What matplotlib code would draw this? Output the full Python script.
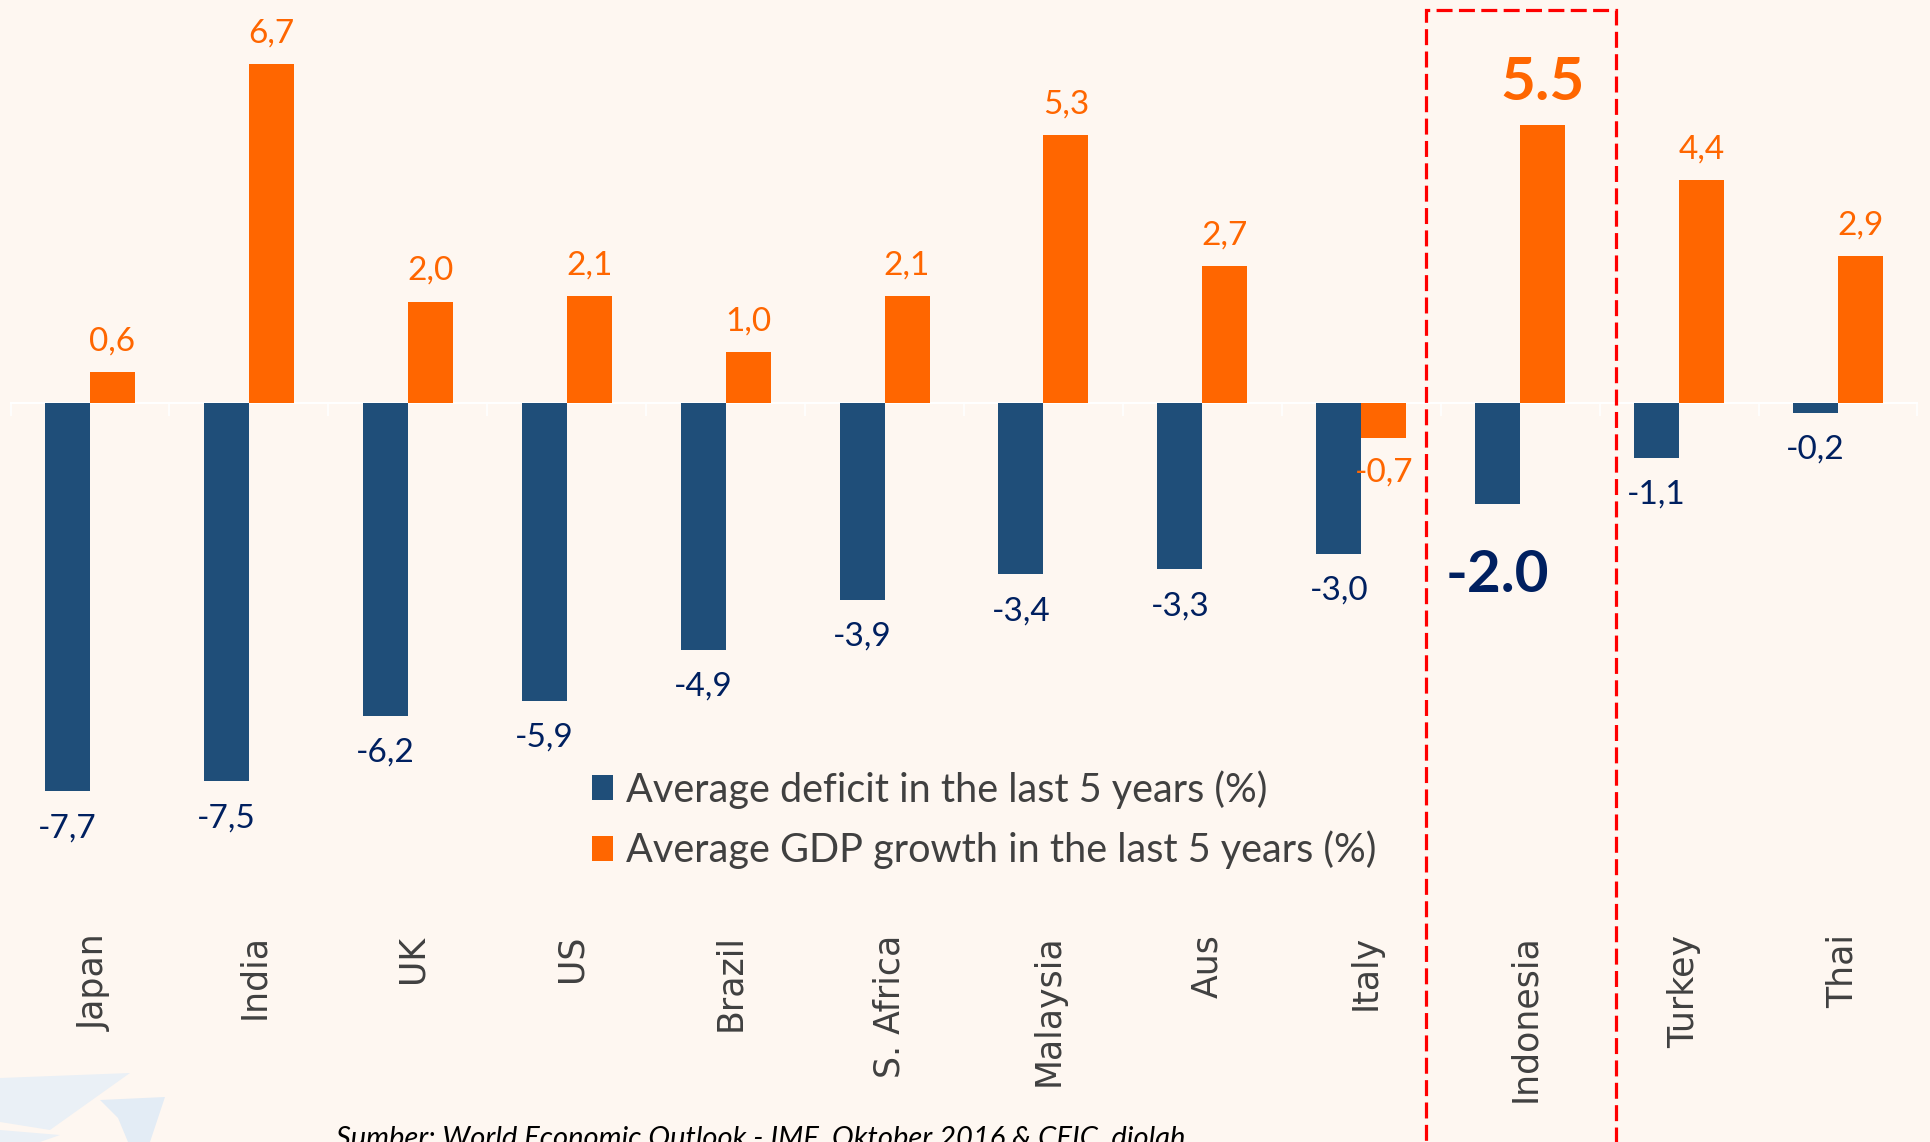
import matplotlib.pyplot as plt
from matplotlib.patches import Rectangle, Polygon

# Data
COUNTRIES = ["Japan", "India", "UK", "US", "Brazil", "S. Africa", "Malaysia",
             "Aus", "Italy", "Indonesia", "Turkey", "Thai"]
DEFICIT = [-7.7, -7.5, -6.2, -5.9, -4.9, -3.9, -3.4, -3.3, -3.0, -2.0, -1.1, -0.2]
GDP_GROWTH = [0.6, 6.7, 2.0, 2.1, 1.0, 2.1, 5.3, 2.7, -0.7, 5.5, 4.4, 2.9]
HIGHLIGHT = "Indonesia"

LEGEND_LABELS = ["Average deficit in the last 5 years (%)",
                 "Average GDP growth in the last 5 years (%)"]
SOURCE = "Sumber: World Economic Outlook - IMF, Oktober 2016 & CEIC, diolah"

BG = "#FEF7F1"
BLUE = "#1F4E79"
ORANGE = "#FF6600"
NAVY = "#002060"
GREY = "#404040"
OUTPUT_PLOT_FILE = "out.png"


def fmt(v):
    return f"{v:.1f}".replace(".", ",")


def main():
    W, H = 1931, 1142
    fig = plt.figure(figsize=(W / 100, H / 100), dpi=100, facecolor=BG)
    ax = fig.add_axes([10.5 / W, 0, 1907 / W, 1])
    ax.set_facecolor(BG)

    x = list(range(len(COUNTRIES)))
    w = 0.283
    bars_d = ax.bar([i - w / 2 for i in x], DEFICIT, width=w, color=BLUE,
                    label=LEGEND_LABELS[0], zorder=3)
    bars_g = ax.bar([i + w / 2 for i in x], GDP_GROWTH, width=w, color=ORANGE,
                    label=LEGEND_LABELS[1], zorder=3)

    ax.set_xlim(-0.5, len(COUNTRIES) - 0.5)
    ax.set_ylim(-14.64, 7.97)

    # zero axis: faint white line with boundary ticks
    for s in ["top", "right", "left"]:
        ax.spines[s].set_visible(False)
    ax.spines["bottom"].set_position(("data", 0))
    ax.spines["bottom"].set_color("white")
    ax.spines["bottom"].set_linewidth(1.5)
    ax.set_xticks([i - 0.5 for i in range(len(COUNTRIES) + 1)])
    ax.tick_params(axis="x", direction="out", length=9, color="white", width=1.2,
                   labelbottom=False)
    ax.set_yticks([])

    # value labels
    for i, (d, g) in enumerate(zip(DEFICIT, GDP_GROWTH)):
        if COUNTRIES[i] == HIGHLIGHT:
            ax.annotate(f"{g:.1f}", (i + w / 2, g), xytext=(0, 30),
                        textcoords="offset points", ha="center", va="center",
                        fontsize=43.5, fontweight="bold", color=ORANGE,
                        family="Lato")
            ax.annotate(f"{d:.1f}", (i - w / 2, d), xytext=(0, -52),
                        textcoords="offset points", ha="center", va="center",
                        fontsize=42, fontweight="bold", color=NAVY,
                        family="Lato")
            continue
        off = 22 if g >= 0 else -25
        ax.annotate(fmt(g), (i + w / 2, g), xytext=(0, off),
                    textcoords="offset points", ha="center", va="center",
                    fontsize=24, color=ORANGE, family="Lato")
        ax.annotate(fmt(d), (i - w / 2, d), xytext=(0, -26.5),
                    textcoords="offset points", ha="center", va="center",
                    fontsize=24, color=NAVY, family="Lato")

    # category labels
    for i, name in enumerate(COUNTRIES):
        ax.text(i + 0.03, -10.53, name, rotation=90, ha="center", va="top",
                fontsize=25, color=GREY, family="DejaVu Sans")

    # highlight box around Indonesia
    k = COUNTRIES.index(HIGHLIGHT)
    box = Rectangle((k - 0.59, -16), 1.19, 7.78 + 16, fill=False,
                    edgecolor="#FF0000", linewidth=2.3,
                    linestyle=(0, (5, 2)), zorder=4, clip_on=False)
    ax.add_patch(box)

    ax.legend(handles=[bars_d, bars_g], loc="center left",
              bbox_to_anchor=(592 / W, 1 - 819.5 / H),
              bbox_transform=fig.transFigure, frameon=False,
              prop={"family": "Lato", "size": 28.5}, labelcolor=GREY,
              handlelength=0.53, handleheight=0.6, handletextpad=0.33,
              labelspacing=0.55, borderpad=0, borderaxespad=0)

    # faint logo shapes bottom-left
    logo1 = Polygon([(0, 1078), (130, 1073), (50, 1130), (0, 1122)],
                    closed=True, facecolor="#EAF0F6", edgecolor="none")
    logo2 = Polygon([(100, 1100), (165, 1097), (150, 1142), (128, 1142), (118, 1118)],
                    closed=True, facecolor="#E3ECF5", edgecolor="none")
    logo3 = Polygon([(0, 1130), (60, 1135), (40, 1142), (0, 1142)],
                    closed=True, facecolor="#EAF0F6", edgecolor="none")
    for p in (logo1, logo2, logo3):
        p.set_xy([(px / W, 1 - py / H) for px, py in p.get_xy()])
        p.set_transform(fig.transFigure)
        fig.patches.append(p)

    fig.text(336 / W, 1 - 1146 / H, SOURCE, ha="left", va="baseline",
             fontsize=21, style="italic", color="black", family="Lato")

    fig.savefig(OUTPUT_PLOT_FILE, dpi=100, facecolor=BG)


if __name__ == "__main__":
    main()
